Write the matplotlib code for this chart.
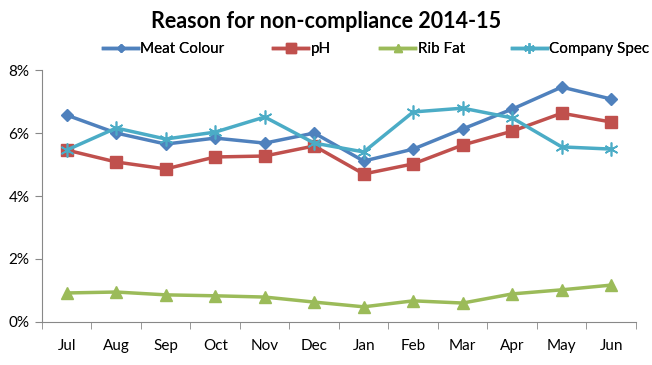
import matplotlib.pyplot as plt
from matplotlib.ticker import FuncFormatter, FixedLocator

plt.rcParams['font.family'] = ['Lato', 'DejaVu Sans']

months = ['Jul', 'Aug', 'Sep', 'Oct', 'Nov', 'Dec', 'Jan', 'Feb', 'Mar', 'Apr', 'May', 'Jun']
meat_colour = [6.57, 6.00, 5.65, 5.84, 5.68, 6.00, 5.11, 5.49, 6.13, 6.76, 7.46, 7.08]
ph = [5.46, 5.08, 4.86, 5.24, 5.27, 5.59, 4.70, 5.02, 5.62, 6.06, 6.63, 6.35]
rib_fat = [0.92, 0.95, 0.86, 0.83, 0.79, 0.63, 0.48, 0.67, 0.60, 0.89, 1.02, 1.17]
company_spec = [5.46, 6.16, 5.81, 6.03, 6.51, 5.68, 5.40, 6.67, 6.79, 6.48, 5.56, 5.49]

fig = plt.figure(figsize=(6.52, 3.65), dpi=100)
ax = fig.add_axes([0.0644, 0.118, 0.911, 0.690])

x = list(range(len(months)))
lines = []
lines += ax.plot(x, meat_colour, color='#4F81BD', lw=2.5, marker='D', ms=6, label='Meat Colour')
lines += ax.plot(x, ph, color='#C0504D', lw=2.5, marker='s', ms=9, label='pH')
lines += ax.plot(x, rib_fat, color='#9BBB59', lw=2.5, marker='^', ms=8, label='Rib Fat')
lines += ax.plot(x, company_spec, color='#4BACC6', lw=2.5, marker=(6, 2, 0), ms=10,
                 mew=1.2, label='Company Spec')

ax.set_xlim(-0.5, len(months) - 0.5)
ax.set_ylim(0, 8)
ax.set_yticks([0, 2, 4, 6, 8])
ax.yaxis.set_major_formatter(FuncFormatter(lambda v, p: f'{v:.0f}%'))
ax.set_xticks(x)
ax.set_xticklabels(months)
ax.xaxis.set_minor_locator(FixedLocator([i - 0.5 for i in range(len(months) + 1)]))
ax.tick_params(axis='x', which='major', length=0, pad=12, labelsize=11)
ax.tick_params(axis='x', which='minor', length=5, color='#888888')
ax.tick_params(axis='y', length=5, color='#888888', labelsize=11, pad=4)

for s in ['top', 'right']:
    ax.spines[s].set_visible(False)
for s in ['left', 'bottom']:
    ax.spines[s].set_color('#888888')

fig.text(0.5, 0.94, 'Reason for non-compliance 2014-15', ha='center', va='center',
         fontsize=15.5, fontweight='bold')

# legend entries sit at fixed slots, like Excel does it
legend_x = [0.158, 0.419, 0.583, 0.785]
for line, lx in zip(lines, legend_x):
    leg = fig.legend(handles=[line], loc='center left', bbox_to_anchor=(lx, 0.866),
                     frameon=False, fontsize=11, handlelength=2.3, handletextpad=0.15,
                     borderpad=0, borderaxespad=0, markerscale=0.75)
    fig.add_artist(leg)

fig.savefig('out.png', dpi=100)
